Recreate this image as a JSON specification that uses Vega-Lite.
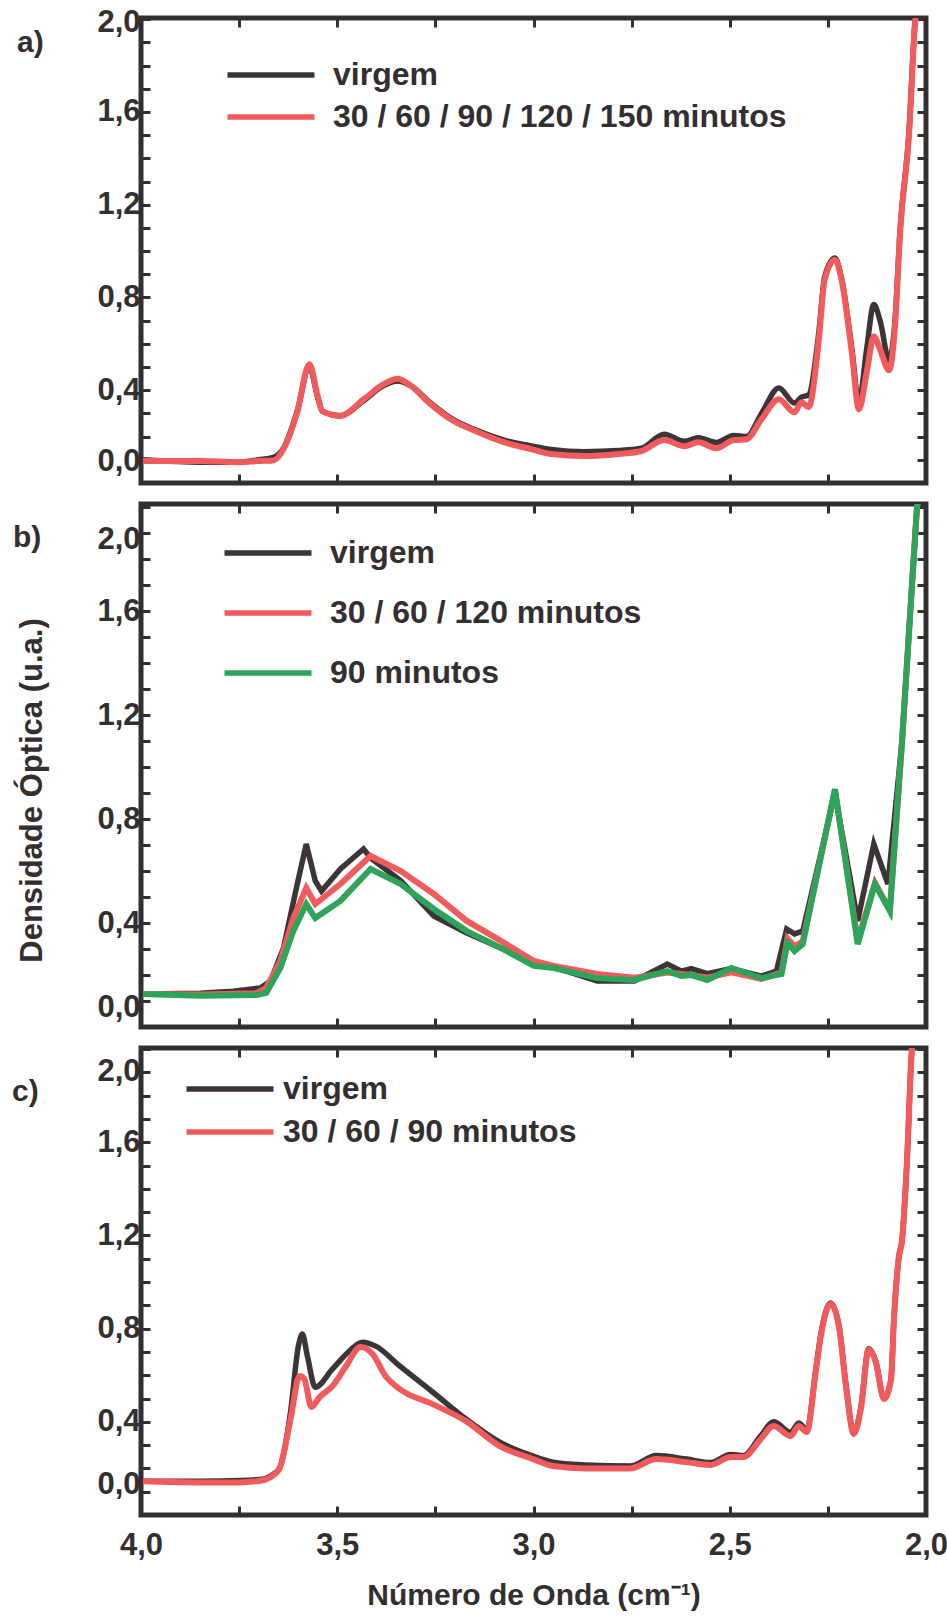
{
  "$schema": "https://vega.github.io/schema/vega-lite/v6.json",
  "padding": {"left": 9, "top": -7, "right": 0, "bottom": 0},
  "background": "white",
  "datasets": {
    "a": [
      {"x":3.995,"y":0.10,"s":"virgem"},{"x":3.85,"y":0.09,"s":"virgem"},{"x":3.75,"y":0.09,"s":"virgem"},{"x":3.70,"y":0.10,"s":"virgem"},{"x":3.663,"y":0.11,"s":"virgem"},{"x":3.637,"y":0.15,"s":"virgem"},{"x":3.602,"y":0.31,"s":"virgem"},{"x":3.571,"y":0.50,"s":"virgem"},{"x":3.55,"y":0.37,"s":"virgem"},{"x":3.538,"y":0.31,"s":"virgem"},{"x":3.492,"y":0.29,"s":"virgem"},{"x":3.433,"y":0.355,"s":"virgem"},{"x":3.382,"y":0.42,"s":"virgem"},{"x":3.346,"y":0.44,"s":"virgem"},{"x":3.313,"y":0.42,"s":"virgem"},{"x":3.262,"y":0.345,"s":"virgem"},{"x":3.211,"y":0.28,"s":"virgem"},{"x":3.142,"y":0.225,"s":"virgem"},{"x":3.075,"y":0.185,"s":"virgem"},{"x":3.006,"y":0.16,"s":"virgem"},{"x":2.955,"y":0.145,"s":"virgem"},{"x":2.871,"y":0.135,"s":"virgem"},{"x":2.784,"y":0.14,"s":"virgem"},{"x":2.725,"y":0.15,"s":"virgem"},{"x":2.667,"y":0.21,"s":"virgem"},{"x":2.616,"y":0.18,"s":"virgem"},{"x":2.58,"y":0.195,"s":"virgem"},{"x":2.534,"y":0.175,"s":"virgem"},{"x":2.49,"y":0.205,"s":"virgem"},{"x":2.457,"y":0.20,"s":"virgem"},{"x":2.419,"y":0.30,"s":"virgem"},{"x":2.375,"y":0.41,"s":"virgem"},{"x":2.335,"y":0.345,"s":"virgem"},{"x":2.317,"y":0.37,"s":"virgem"},{"x":2.299,"y":0.38,"s":"virgem"},{"x":2.273,"y":0.65,"s":"virgem"},{"x":2.258,"y":0.89,"s":"virgem"},{"x":2.232,"y":0.97,"s":"virgem"},{"x":2.215,"y":0.88,"s":"virgem"},{"x":2.189,"y":0.58,"s":"virgem"},{"x":2.171,"y":0.35,"s":"virgem"},{"x":2.151,"y":0.58,"s":"virgem"},{"x":2.133,"y":0.77,"s":"virgem"},{"x":2.117,"y":0.70,"s":"virgem"},{"x":2.094,"y":0.53,"s":"virgem"},{"x":2.079,"y":0.70,"s":"virgem"},{"x":2.066,"y":1.09,"s":"virgem"},{"x":2.043,"y":1.52,"s":"virgem"},{"x":2.028,"y":1.99,"s":"virgem"},{"x":2.02,"y":2.1,"s":"virgem"},
      {"x":3.995,"y":0.095,"s":"30 / 60 / 90 / 120 / 150 minutos"},{"x":3.85,"y":0.095,"s":"30 / 60 / 90 / 120 / 150 minutos"},{"x":3.75,"y":0.09,"s":"30 / 60 / 90 / 120 / 150 minutos"},{"x":3.70,"y":0.095,"s":"30 / 60 / 90 / 120 / 150 minutos"},{"x":3.663,"y":0.097,"s":"30 / 60 / 90 / 120 / 150 minutos"},{"x":3.637,"y":0.146,"s":"30 / 60 / 90 / 120 / 150 minutos"},{"x":3.602,"y":0.305,"s":"30 / 60 / 90 / 120 / 150 minutos"},{"x":3.571,"y":0.512,"s":"30 / 60 / 90 / 120 / 150 minutos"},{"x":3.55,"y":0.375,"s":"30 / 60 / 90 / 120 / 150 minutos"},{"x":3.538,"y":0.31,"s":"30 / 60 / 90 / 120 / 150 minutos"},{"x":3.492,"y":0.29,"s":"30 / 60 / 90 / 120 / 150 minutos"},{"x":3.433,"y":0.36,"s":"30 / 60 / 90 / 120 / 150 minutos"},{"x":3.382,"y":0.426,"s":"30 / 60 / 90 / 120 / 150 minutos"},{"x":3.346,"y":0.45,"s":"30 / 60 / 90 / 120 / 150 minutos"},{"x":3.313,"y":0.42,"s":"30 / 60 / 90 / 120 / 150 minutos"},{"x":3.262,"y":0.34,"s":"30 / 60 / 90 / 120 / 150 minutos"},{"x":3.211,"y":0.275,"s":"30 / 60 / 90 / 120 / 150 minutos"},{"x":3.142,"y":0.22,"s":"30 / 60 / 90 / 120 / 150 minutos"},{"x":3.075,"y":0.176,"s":"30 / 60 / 90 / 120 / 150 minutos"},{"x":3.006,"y":0.146,"s":"30 / 60 / 90 / 120 / 150 minutos"},{"x":2.955,"y":0.125,"s":"30 / 60 / 90 / 120 / 150 minutos"},{"x":2.871,"y":0.116,"s":"30 / 60 / 90 / 120 / 150 minutos"},{"x":2.784,"y":0.125,"s":"30 / 60 / 90 / 120 / 150 minutos"},{"x":2.725,"y":0.138,"s":"30 / 60 / 90 / 120 / 150 minutos"},{"x":2.667,"y":0.185,"s":"30 / 60 / 90 / 120 / 150 minutos"},{"x":2.616,"y":0.159,"s":"30 / 60 / 90 / 120 / 150 minutos"},{"x":2.58,"y":0.176,"s":"30 / 60 / 90 / 120 / 150 minutos"},{"x":2.534,"y":0.15,"s":"30 / 60 / 90 / 120 / 150 minutos"},{"x":2.49,"y":0.185,"s":"30 / 60 / 90 / 120 / 150 minutos"},{"x":2.457,"y":0.189,"s":"30 / 60 / 90 / 120 / 150 minutos"},{"x":2.419,"y":0.275,"s":"30 / 60 / 90 / 120 / 150 minutos"},{"x":2.375,"y":0.361,"s":"30 / 60 / 90 / 120 / 150 minutos"},{"x":2.335,"y":0.305,"s":"30 / 60 / 90 / 120 / 150 minutos"},{"x":2.317,"y":0.348,"s":"30 / 60 / 90 / 120 / 150 minutos"},{"x":2.299,"y":0.327,"s":"30 / 60 / 90 / 120 / 150 minutos"},{"x":2.273,"y":0.619,"s":"30 / 60 / 90 / 120 / 150 minutos"},{"x":2.258,"y":0.877,"s":"30 / 60 / 90 / 120 / 150 minutos"},{"x":2.232,"y":0.963,"s":"30 / 60 / 90 / 120 / 150 minutos"},{"x":2.215,"y":0.877,"s":"30 / 60 / 90 / 120 / 150 minutos"},{"x":2.189,"y":0.563,"s":"30 / 60 / 90 / 120 / 150 minutos"},{"x":2.171,"y":0.318,"s":"30 / 60 / 90 / 120 / 150 minutos"},{"x":2.151,"y":0.477,"s":"30 / 60 / 90 / 120 / 150 minutos"},{"x":2.133,"y":0.632,"s":"30 / 60 / 90 / 120 / 150 minutos"},{"x":2.117,"y":0.576,"s":"30 / 60 / 90 / 120 / 150 minutos"},{"x":2.094,"y":0.486,"s":"30 / 60 / 90 / 120 / 150 minutos"},{"x":2.079,"y":0.675,"s":"30 / 60 / 90 / 120 / 150 minutos"},{"x":2.066,"y":1.08,"s":"30 / 60 / 90 / 120 / 150 minutos"},{"x":2.043,"y":1.51,"s":"30 / 60 / 90 / 120 / 150 minutos"},{"x":2.028,"y":1.98,"s":"30 / 60 / 90 / 120 / 150 minutos"},{"x":2.02,"y":2.1,"s":"30 / 60 / 90 / 120 / 150 minutos"}
    ],
    "b": [
      {"x":3.995,"y":0.127,"s":"virgem"},{"x":3.849,"y":0.13,"s":"virgem"},{"x":3.765,"y":0.138,"s":"virgem"},{"x":3.696,"y":0.15,"s":"virgem"},{"x":3.67,"y":0.177,"s":"virgem"},{"x":3.637,"y":0.304,"s":"virgem"},{"x":3.604,"y":0.535,"s":"virgem"},{"x":3.579,"y":0.704,"s":"virgem"},{"x":3.556,"y":0.562,"s":"virgem"},{"x":3.54,"y":0.523,"s":"virgem"},{"x":3.492,"y":0.608,"s":"virgem"},{"x":3.433,"y":0.685,"s":"virgem"},{"x":3.415,"y":0.65,"s":"virgem"},{"x":3.338,"y":0.562,"s":"virgem"},{"x":3.254,"y":0.427,"s":"virgem"},{"x":3.17,"y":0.362,"s":"virgem"},{"x":3.083,"y":0.304,"s":"virgem"},{"x":2.999,"y":0.242,"s":"virgem"},{"x":2.948,"y":0.23,"s":"virgem"},{"x":2.838,"y":0.177,"s":"virgem"},{"x":2.743,"y":0.177,"s":"virgem"},{"x":2.659,"y":0.242,"s":"virgem"},{"x":2.623,"y":0.215,"s":"virgem"},{"x":2.598,"y":0.225,"s":"virgem"},{"x":2.557,"y":0.205,"s":"virgem"},{"x":2.496,"y":0.225,"s":"virgem"},{"x":2.419,"y":0.196,"s":"virgem"},{"x":2.381,"y":0.215,"s":"virgem"},{"x":2.355,"y":0.377,"s":"virgem"},{"x":2.335,"y":0.358,"s":"virgem"},{"x":2.314,"y":0.369,"s":"virgem"},{"x":2.232,"y":0.90,"s":"virgem"},{"x":2.174,"y":0.408,"s":"virgem"},{"x":2.133,"y":0.704,"s":"virgem"},{"x":2.097,"y":0.55,"s":"virgem"},{"x":2.061,"y":1.10,"s":"virgem"},{"x":2.023,"y":2.0,"s":"virgem"},{"x":2.015,"y":2.1,"s":"virgem"},
      {"x":3.995,"y":0.127,"s":"30 / 60 / 120 minutos"},{"x":3.849,"y":0.125,"s":"30 / 60 / 120 minutos"},{"x":3.706,"y":0.13,"s":"30 / 60 / 120 minutos"},{"x":3.681,"y":0.15,"s":"30 / 60 / 120 minutos"},{"x":3.645,"y":0.254,"s":"30 / 60 / 120 minutos"},{"x":3.612,"y":0.419,"s":"30 / 60 / 120 minutos"},{"x":3.579,"y":0.535,"s":"30 / 60 / 120 minutos"},{"x":3.556,"y":0.473,"s":"30 / 60 / 120 minutos"},{"x":3.492,"y":0.55,"s":"30 / 60 / 120 minutos"},{"x":3.415,"y":0.658,"s":"30 / 60 / 120 minutos"},{"x":3.338,"y":0.60,"s":"30 / 60 / 120 minutos"},{"x":3.254,"y":0.512,"s":"30 / 60 / 120 minutos"},{"x":3.17,"y":0.408,"s":"30 / 60 / 120 minutos"},{"x":3.083,"y":0.331,"s":"30 / 60 / 120 minutos"},{"x":2.999,"y":0.254,"s":"30 / 60 / 120 minutos"},{"x":2.948,"y":0.235,"s":"30 / 60 / 120 minutos"},{"x":2.838,"y":0.204,"s":"30 / 60 / 120 minutos"},{"x":2.743,"y":0.19,"s":"30 / 60 / 120 minutos"},{"x":2.659,"y":0.21,"s":"30 / 60 / 120 minutos"},{"x":2.598,"y":0.20,"s":"30 / 60 / 120 minutos"},{"x":2.557,"y":0.19,"s":"30 / 60 / 120 minutos"},{"x":2.496,"y":0.21,"s":"30 / 60 / 120 minutos"},{"x":2.419,"y":0.185,"s":"30 / 60 / 120 minutos"},{"x":2.368,"y":0.21,"s":"30 / 60 / 120 minutos"},{"x":2.353,"y":0.34,"s":"30 / 60 / 120 minutos"},{"x":2.335,"y":0.31,"s":"30 / 60 / 120 minutos"},{"x":2.314,"y":0.33,"s":"30 / 60 / 120 minutos"},{"x":2.232,"y":0.91,"s":"30 / 60 / 120 minutos"},{"x":2.174,"y":0.33,"s":"30 / 60 / 120 minutos"},{"x":2.13,"y":0.555,"s":"30 / 60 / 120 minutos"},{"x":2.092,"y":0.45,"s":"30 / 60 / 120 minutos"},{"x":2.061,"y":1.10,"s":"30 / 60 / 120 minutos"},{"x":2.023,"y":2.0,"s":"30 / 60 / 120 minutos"},{"x":2.015,"y":2.1,"s":"30 / 60 / 120 minutos"},
      {"x":3.995,"y":0.127,"s":"90 minutos"},{"x":3.849,"y":0.12,"s":"90 minutos"},{"x":3.706,"y":0.123,"s":"90 minutos"},{"x":3.681,"y":0.131,"s":"90 minutos"},{"x":3.645,"y":0.227,"s":"90 minutos"},{"x":3.612,"y":0.369,"s":"90 minutos"},{"x":3.579,"y":0.473,"s":"90 minutos"},{"x":3.556,"y":0.419,"s":"90 minutos"},{"x":3.492,"y":0.485,"s":"90 minutos"},{"x":3.415,"y":0.608,"s":"90 minutos"},{"x":3.338,"y":0.55,"s":"90 minutos"},{"x":3.254,"y":0.454,"s":"90 minutos"},{"x":3.17,"y":0.369,"s":"90 minutos"},{"x":3.083,"y":0.304,"s":"90 minutos"},{"x":2.999,"y":0.235,"s":"90 minutos"},{"x":2.948,"y":0.227,"s":"90 minutos"},{"x":2.838,"y":0.188,"s":"90 minutos"},{"x":2.743,"y":0.181,"s":"90 minutos"},{"x":2.659,"y":0.215,"s":"90 minutos"},{"x":2.623,"y":0.196,"s":"90 minutos"},{"x":2.598,"y":0.20,"s":"90 minutos"},{"x":2.557,"y":0.181,"s":"90 minutos"},{"x":2.496,"y":0.227,"s":"90 minutos"},{"x":2.419,"y":0.188,"s":"90 minutos"},{"x":2.368,"y":0.204,"s":"90 minutos"},{"x":2.353,"y":0.323,"s":"90 minutos"},{"x":2.335,"y":0.292,"s":"90 minutos"},{"x":2.314,"y":0.319,"s":"90 minutos"},{"x":2.232,"y":0.915,"s":"90 minutos"},{"x":2.174,"y":0.319,"s":"90 minutos"},{"x":2.13,"y":0.55,"s":"90 minutos"},{"x":2.092,"y":0.446,"s":"90 minutos"},{"x":2.061,"y":1.10,"s":"90 minutos"},{"x":2.023,"y":2.0,"s":"90 minutos"},{"x":2.015,"y":2.1,"s":"90 minutos"}
    ],
    "c": [
      {"x":3.995,"y":0.145,"s":"virgem"},{"x":3.85,"y":0.145,"s":"virgem"},{"x":3.75,"y":0.148,"s":"virgem"},{"x":3.686,"y":0.155,"s":"virgem"},{"x":3.673,"y":0.165,"s":"virgem"},{"x":3.648,"y":0.197,"s":"virgem"},{"x":3.619,"y":0.442,"s":"virgem"},{"x":3.599,"y":0.725,"s":"virgem"},{"x":3.589,"y":0.777,"s":"virgem"},{"x":3.576,"y":0.682,"s":"virgem"},{"x":3.556,"y":0.549,"s":"virgem"},{"x":3.512,"y":0.627,"s":"virgem"},{"x":3.469,"y":0.704,"s":"virgem"},{"x":3.436,"y":0.742,"s":"virgem"},{"x":3.402,"y":0.725,"s":"virgem"},{"x":3.341,"y":0.64,"s":"virgem"},{"x":3.257,"y":0.528,"s":"virgem"},{"x":3.172,"y":0.412,"s":"virgem"},{"x":3.086,"y":0.313,"s":"virgem"},{"x":3.001,"y":0.253,"s":"virgem"},{"x":2.95,"y":0.227,"s":"virgem"},{"x":2.866,"y":0.215,"s":"virgem"},{"x":2.754,"y":0.21,"s":"virgem"},{"x":2.687,"y":0.255,"s":"virgem"},{"x":2.61,"y":0.24,"s":"virgem"},{"x":2.549,"y":0.225,"s":"virgem"},{"x":2.498,"y":0.26,"s":"virgem"},{"x":2.465,"y":0.255,"s":"virgem"},{"x":2.421,"y":0.34,"s":"virgem"},{"x":2.388,"y":0.40,"s":"virgem"},{"x":2.345,"y":0.355,"s":"virgem"},{"x":2.324,"y":0.395,"s":"virgem"},{"x":2.304,"y":0.365,"s":"virgem"},{"x":2.281,"y":0.62,"s":"virgem"},{"x":2.268,"y":0.775,"s":"virgem"},{"x":2.243,"y":0.91,"s":"virgem"},{"x":2.222,"y":0.815,"s":"virgem"},{"x":2.204,"y":0.56,"s":"virgem"},{"x":2.184,"y":0.355,"s":"virgem"},{"x":2.166,"y":0.46,"s":"virgem"},{"x":2.146,"y":0.715,"s":"virgem"},{"x":2.128,"y":0.66,"s":"virgem"},{"x":2.107,"y":0.50,"s":"virgem"},{"x":2.089,"y":0.585,"s":"virgem"},{"x":2.082,"y":0.83,"s":"virgem"},{"x":2.069,"y":1.11,"s":"virgem"},{"x":2.061,"y":1.18,"s":"virgem"},{"x":2.049,"y":1.5,"s":"virgem"},{"x":2.036,"y":2.0,"s":"virgem"},{"x":2.03,"y":2.1,"s":"virgem"},
      {"x":3.995,"y":0.145,"s":"30 / 60 / 90 minutos"},{"x":3.85,"y":0.14,"s":"30 / 60 / 90 minutos"},{"x":3.75,"y":0.14,"s":"30 / 60 / 90 minutos"},{"x":3.686,"y":0.15,"s":"30 / 60 / 90 minutos"},{"x":3.673,"y":0.16,"s":"30 / 60 / 90 minutos"},{"x":3.648,"y":0.197,"s":"30 / 60 / 90 minutos"},{"x":3.619,"y":0.412,"s":"30 / 60 / 90 minutos"},{"x":3.596,"y":0.597,"s":"30 / 60 / 90 minutos"},{"x":3.584,"y":0.584,"s":"30 / 60 / 90 minutos"},{"x":3.566,"y":0.464,"s":"30 / 60 / 90 minutos"},{"x":3.545,"y":0.506,"s":"30 / 60 / 90 minutos"},{"x":3.512,"y":0.554,"s":"30 / 60 / 90 minutos"},{"x":3.479,"y":0.635,"s":"30 / 60 / 90 minutos"},{"x":3.441,"y":0.721,"s":"30 / 60 / 90 minutos"},{"x":3.41,"y":0.691,"s":"30 / 60 / 90 minutos"},{"x":3.377,"y":0.597,"s":"30 / 60 / 90 minutos"},{"x":3.341,"y":0.541,"s":"30 / 60 / 90 minutos"},{"x":3.257,"y":0.476,"s":"30 / 60 / 90 minutos"},{"x":3.172,"y":0.403,"s":"30 / 60 / 90 minutos"},{"x":3.086,"y":0.296,"s":"30 / 60 / 90 minutos"},{"x":3.001,"y":0.24,"s":"30 / 60 / 90 minutos"},{"x":2.95,"y":0.21,"s":"30 / 60 / 90 minutos"},{"x":2.866,"y":0.20,"s":"30 / 60 / 90 minutos"},{"x":2.754,"y":0.20,"s":"30 / 60 / 90 minutos"},{"x":2.687,"y":0.24,"s":"30 / 60 / 90 minutos"},{"x":2.61,"y":0.227,"s":"30 / 60 / 90 minutos"},{"x":2.549,"y":0.215,"s":"30 / 60 / 90 minutos"},{"x":2.498,"y":0.249,"s":"30 / 60 / 90 minutos"},{"x":2.465,"y":0.249,"s":"30 / 60 / 90 minutos"},{"x":2.421,"y":0.326,"s":"30 / 60 / 90 minutos"},{"x":2.388,"y":0.382,"s":"30 / 60 / 90 minutos"},{"x":2.345,"y":0.339,"s":"30 / 60 / 90 minutos"},{"x":2.324,"y":0.382,"s":"30 / 60 / 90 minutos"},{"x":2.304,"y":0.356,"s":"30 / 60 / 90 minutos"},{"x":2.281,"y":0.614,"s":"30 / 60 / 90 minutos"},{"x":2.268,"y":0.768,"s":"30 / 60 / 90 minutos"},{"x":2.243,"y":0.906,"s":"30 / 60 / 90 minutos"},{"x":2.222,"y":0.811,"s":"30 / 60 / 90 minutos"},{"x":2.204,"y":0.554,"s":"30 / 60 / 90 minutos"},{"x":2.184,"y":0.348,"s":"30 / 60 / 90 minutos"},{"x":2.166,"y":0.455,"s":"30 / 60 / 90 minutos"},{"x":2.146,"y":0.712,"s":"30 / 60 / 90 minutos"},{"x":2.128,"y":0.657,"s":"30 / 60 / 90 minutos"},{"x":2.107,"y":0.498,"s":"30 / 60 / 90 minutos"},{"x":2.089,"y":0.584,"s":"30 / 60 / 90 minutos"},{"x":2.082,"y":0.828,"s":"30 / 60 / 90 minutos"},{"x":2.069,"y":1.11,"s":"30 / 60 / 90 minutos"},{"x":2.061,"y":1.18,"s":"30 / 60 / 90 minutos"},{"x":2.049,"y":1.5,"s":"30 / 60 / 90 minutos"},{"x":2.036,"y":2.0,"s":"30 / 60 / 90 minutos"},{"x":2.03,"y":2.1,"s":"30 / 60 / 90 minutos"}
    ]
  },
  "vconcat": [
    {
      "width": 785, "height": 465,
      "data": {"name": "a"},
      "title": {"text": "a)", "anchor": "start", "frame": "group", "orient": "top", "offset": 0, "dx": -124, "dy": 77, "baseline": "middle", "fontSize": 30, "font": "Liberation Sans", "fontWeight": "bold", "color": "#332e30"},
      "layer": [
        {
          "transform": [{"filter": "datum.s === 'virgem'"}],
          "mark": {"type": "line", "strokeWidth": 5.5, "clip": true, "interpolate": "monotone"},
          "encoding": {
            "x": {"field": "x", "type": "quantitative", "scale": {"domain": [2, 4], "reverse": true, "nice": false, "zero": false},
                  "axis": {"orient": "bottom", "values": [2, 2.25, 2.5, 2.75, 3, 3.25, 3.5, 3.75, 4], "labels": false, "title": null, "tickSize": -9}},
            "y": {"field": "y", "type": "quantitative", "scale": {"domain": [0, 2.005], "nice": false, "zero": false},
                  "axis": {"orient": "left", "values": [0, 0.1, 0.2, 0.3, 0.4, 0.5, 0.6, 0.7, 0.8, 0.9, 1.0, 1.1, 1.2, 1.3, 1.4, 1.5, 1.6, 1.7, 1.8, 1.9, 2.0], "labelExpr": "round(datum.value*10) % 4 == 0 ? replace(format(datum.value, '.1f'), '.', ',') : ''", "title": null, "tickSize": -9, "labelPadding": 10,
                           "labelOffset": {"condition": [{"test": "datum.value < 0.05", "value": -22}, {"test": "datum.value > 1.95", "value": 3}], "value": 0}}},
            "color": {"field": "s", "type": "nominal", "scale": {"domain": ["virgem", "30 / 60 / 90 / 120 / 150 minutos"], "range": ["#3b3537", "#f15b5b"]},
                      "legend": {"title": null, "orient": "none", "legendX": 114, "legendY": 41, "rowPadding": 10, "labelOffset": 46}}
          }
        },
        {
          "transform": [{"filter": "datum.s !== 'virgem'"}],
          "mark": {"type": "line", "strokeWidth": 6, "clip": true, "interpolate": "monotone"},
          "encoding": {
            "x": {"field": "x", "type": "quantitative", "scale": {"domain": [2, 4], "reverse": true, "nice": false, "zero": false}, "axis": null},
            "y": {"field": "y", "type": "quantitative", "scale": {"domain": [0, 2.005], "nice": false, "zero": false}, "axis": null},
            "color": {"field": "s", "type": "nominal", "scale": {"domain": ["virgem", "30 / 60 / 90 / 120 / 150 minutos"], "range": ["#3b3537", "#f15b5b"]},
                      "legend": {"title": null, "orient": "none", "legendX": 114, "legendY": 41, "rowPadding": 10, "labelOffset": 46}}
          }
        },
        {
          "mark": {"type": "line", "opacity": 0},
          "encoding": {
            "x": {"field": "x", "type": "quantitative", "scale": {"domain": [2, 4], "reverse": true, "nice": false, "zero": false},
                  "axis": {"orient": "top", "values": [2, 2.25, 2.5, 2.75, 3, 3.25, 3.5, 3.75, 4], "labels": false, "title": null, "tickSize": -9}},
            "y": {"field": "y", "type": "quantitative", "scale": {"domain": [0, 2.005], "nice": false, "zero": false},
                  "axis": {"orient": "right", "values": [0, 0.1, 0.2, 0.3, 0.4, 0.5, 0.6, 0.7, 0.8, 0.9, 1.0, 1.1, 1.2, 1.3, 1.4, 1.5, 1.6, 1.7, 1.8, 1.9, 2.0], "labels": false, "title": null, "tickSize": -9}}
          }
        }
      ]
    },
    {
      "width": 785, "height": 523,
      "data": {"name": "b"},
      "title": {"text": "b)", "anchor": "start", "frame": "group", "orient": "top", "offset": 0, "dx": -128, "dy": 87, "baseline": "middle", "fontSize": 30, "font": "Liberation Sans", "fontWeight": "bold", "color": "#332e30"},
      "layer": [
        {
          "transform": [{"filter": "datum.s === 'virgem'"}],
          "mark": {"type": "line", "strokeWidth": 5.5, "clip": true},
          "encoding": {
            "x": {"field": "x", "type": "quantitative", "scale": {"domain": [2, 4], "reverse": true, "nice": false, "zero": false},
                  "axis": {"orient": "bottom", "values": [2, 2.25, 2.5, 2.75, 3, 3.25, 3.5, 3.75, 4], "labels": false, "title": null, "tickSize": -9}},
            "y": {"field": "y", "type": "quantitative", "scale": {"domain": [0, 2.012], "nice": false, "zero": false},
                  "axis": {"orient": "left", "values": [0, 0.1, 0.2, 0.3, 0.4, 0.5, 0.6, 0.7, 0.8, 0.9, 1.0, 1.1, 1.2, 1.3, 1.4, 1.5, 1.6, 1.7, 1.8, 1.9, 2.0], "labelExpr": "round(datum.value*10) % 4 == 0 ? replace(format(datum.value, '.1f'), '.', ',') : ''", "title": "Densidade Óptica (u.a.)", "titlePadding": 48, "titleY": 286, "titleFontSize": 31, "tickSize": -9, "labelPadding": 10,
                           "labelOffset": {"condition": [{"test": "datum.value < 0.05", "value": -20}, {"test": "datum.value > 1.95", "value": 32}], "value": 0}}},
            "color": {"field": "s", "type": "nominal", "scale": {"domain": ["virgem", "30 / 60 / 120 minutos", "90 minutos"], "range": ["#3b3537", "#f15b5b", "#2ea45b"]},
                      "legend": {"title": null, "orient": "none", "legendX": 111, "legendY": 33, "rowPadding": 28, "labelOffset": 46}}
          }
        },
        {
          "transform": [{"filter": "datum.s === '30 / 60 / 120 minutos'"}],
          "mark": {"type": "line", "strokeWidth": 6, "clip": true},
          "encoding": {
            "x": {"field": "x", "type": "quantitative", "scale": {"domain": [2, 4], "reverse": true, "nice": false, "zero": false}, "axis": null},
            "y": {"field": "y", "type": "quantitative", "scale": {"domain": [0, 2.012], "nice": false, "zero": false}, "axis": null},
            "color": {"field": "s", "type": "nominal", "scale": {"domain": ["virgem", "30 / 60 / 120 minutos", "90 minutos"], "range": ["#3b3537", "#f15b5b", "#2ea45b"]},
                      "legend": {"title": null, "orient": "none", "legendX": 111, "legendY": 33, "rowPadding": 28, "labelOffset": 46}}
          }
        },
        {
          "transform": [{"filter": "datum.s === '90 minutos'"}],
          "mark": {"type": "line", "strokeWidth": 6, "clip": true},
          "encoding": {
            "x": {"field": "x", "type": "quantitative", "scale": {"domain": [2, 4], "reverse": true, "nice": false, "zero": false}, "axis": null},
            "y": {"field": "y", "type": "quantitative", "scale": {"domain": [0, 2.012], "nice": false, "zero": false}, "axis": null},
            "color": {"field": "s", "type": "nominal", "scale": {"domain": ["virgem", "30 / 60 / 120 minutos", "90 minutos"], "range": ["#3b3537", "#f15b5b", "#2ea45b"]},
                      "legend": {"title": null, "orient": "none", "legendX": 111, "legendY": 33, "rowPadding": 28, "labelOffset": 46}}
          }
        },
        {
          "mark": {"type": "line", "opacity": 0},
          "encoding": {
            "x": {"field": "x", "type": "quantitative", "scale": {"domain": [2, 4], "reverse": true, "nice": false, "zero": false},
                  "axis": {"orient": "top", "values": [2, 2.25, 2.5, 2.75, 3, 3.25, 3.5, 3.75, 4], "labels": false, "title": null, "tickSize": -9}},
            "y": {"field": "y", "type": "quantitative", "scale": {"domain": [0, 2.012], "nice": false, "zero": false},
                  "axis": {"orient": "right", "values": [0, 0.1, 0.2, 0.3, 0.4, 0.5, 0.6, 0.7, 0.8, 0.9, 1.0, 1.1, 1.2, 1.3, 1.4, 1.5, 1.6, 1.7, 1.8, 1.9, 2.0], "labels": false, "title": null, "tickSize": -9}}
          }
        }
      ]
    },
    {
      "width": 785, "height": 467,
      "data": {"name": "c"},
      "title": {"text": "c)", "anchor": "start", "frame": "group", "orient": "top", "offset": 0, "dx": -129, "dy": 96, "baseline": "middle", "fontSize": 30, "font": "Liberation Sans", "fontWeight": "bold", "color": "#332e30"},
      "layer": [
        {
          "transform": [{"filter": "datum.s === 'virgem'"}],
          "mark": {"type": "line", "strokeWidth": 5.5, "clip": true, "interpolate": "monotone"},
          "encoding": {
            "x": {"field": "x", "type": "quantitative", "scale": {"domain": [2, 4], "reverse": true, "nice": false, "zero": false},
                  "axis": {"orient": "bottom", "values": [2, 2.25, 2.5, 2.75, 3, 3.25, 3.5, 3.75, 4], "labelExpr": "round(datum.value*100) % 50 == 0 ? replace(format(datum.value, '.1f'), '.', ',') : ''", "title": "Número de Onda (cm⁻¹)", "titlePadding": 20, "labelPadding": 24, "tickSize": -9}},
            "y": {"field": "y", "type": "quantitative", "scale": {"domain": [0, 2.005], "nice": false, "zero": false},
                  "axis": {"orient": "left", "values": [0, 0.1, 0.2, 0.3, 0.4, 0.5, 0.6, 0.7, 0.8, 0.9, 1.0, 1.1, 1.2, 1.3, 1.4, 1.5, 1.6, 1.7, 1.8, 1.9, 2.0], "labelExpr": "round(datum.value*10) % 4 == 0 ? replace(format(datum.value, '.1f'), '.', ',') : ''", "title": null, "tickSize": -9, "labelPadding": 10,
                           "labelOffset": {"condition": [{"test": "datum.value < 0.05", "value": -31}, {"test": "datum.value > 1.95", "value": 22}], "value": 0}}},
            "color": {"field": "s", "type": "nominal", "scale": {"domain": ["virgem", "30 / 60 / 90 minutos"], "range": ["#3b3537", "#f15b5b"]},
                      "legend": {"title": null, "orient": "none", "legendX": 73, "legendY": 25, "rowPadding": 11, "labelOffset": 37}}
          }
        },
        {
          "transform": [{"filter": "datum.s !== 'virgem'"}],
          "mark": {"type": "line", "strokeWidth": 6, "clip": true, "interpolate": "monotone"},
          "encoding": {
            "x": {"field": "x", "type": "quantitative", "scale": {"domain": [2, 4], "reverse": true, "nice": false, "zero": false}, "axis": null},
            "y": {"field": "y", "type": "quantitative", "scale": {"domain": [0, 2.005], "nice": false, "zero": false}, "axis": null},
            "color": {"field": "s", "type": "nominal", "scale": {"domain": ["virgem", "30 / 60 / 90 minutos"], "range": ["#3b3537", "#f15b5b"]},
                      "legend": {"title": null, "orient": "none", "legendX": 73, "legendY": 25, "rowPadding": 11, "labelOffset": 37}}
          }
        },
        {
          "mark": {"type": "line", "opacity": 0},
          "encoding": {
            "x": {"field": "x", "type": "quantitative", "scale": {"domain": [2, 4], "reverse": true, "nice": false, "zero": false},
                  "axis": {"orient": "top", "values": [2, 2.25, 2.5, 2.75, 3, 3.25, 3.5, 3.75, 4], "labels": false, "title": null, "tickSize": -9}},
            "y": {"field": "y", "type": "quantitative", "scale": {"domain": [0, 2.005], "nice": false, "zero": false},
                  "axis": {"orient": "right", "values": [0, 0.1, 0.2, 0.3, 0.4, 0.5, 0.6, 0.7, 0.8, 0.9, 1.0, 1.1, 1.2, 1.3, 1.4, 1.5, 1.6, 1.7, 1.8, 1.9, 2.0], "labels": false, "title": null, "tickSize": -9}}
          }
        }
      ]
    }
  ],
  "spacing": 21,
  "bounds": "flush",
  "resolve": {"scale": {"color": "independent", "y": "independent"}, "legend": {"color": "independent"}},
  "config": {
    "font": "Liberation Sans",
    "view": {"stroke": "#332e30", "strokeWidth": 5},
    "axis": {"labelFont": "Liberation Sans", "labelFontWeight": "bold", "labelFontSize": 31, "labelColor": "#332e30", "titleFont": "Liberation Sans", "titleFontWeight": "bold", "titleFontSize": 30, "titleColor": "#332e30", "tickColor": "#332e30", "tickWidth": 3, "grid": false, "domain": false, "labelOverlap": false, "labelFlush": false},
    "legend": {"labelFont": "Liberation Sans", "labelFontWeight": "bold", "labelFontSize": 32, "labelColor": "#332e30", "symbolType": "M-4.35,0H4.35", "symbolStrokeWidth": 5.5, "symbolSize": 400, "symbolOpacity": 1, "labelLimit": 0, "padding": 0}
  }
}
